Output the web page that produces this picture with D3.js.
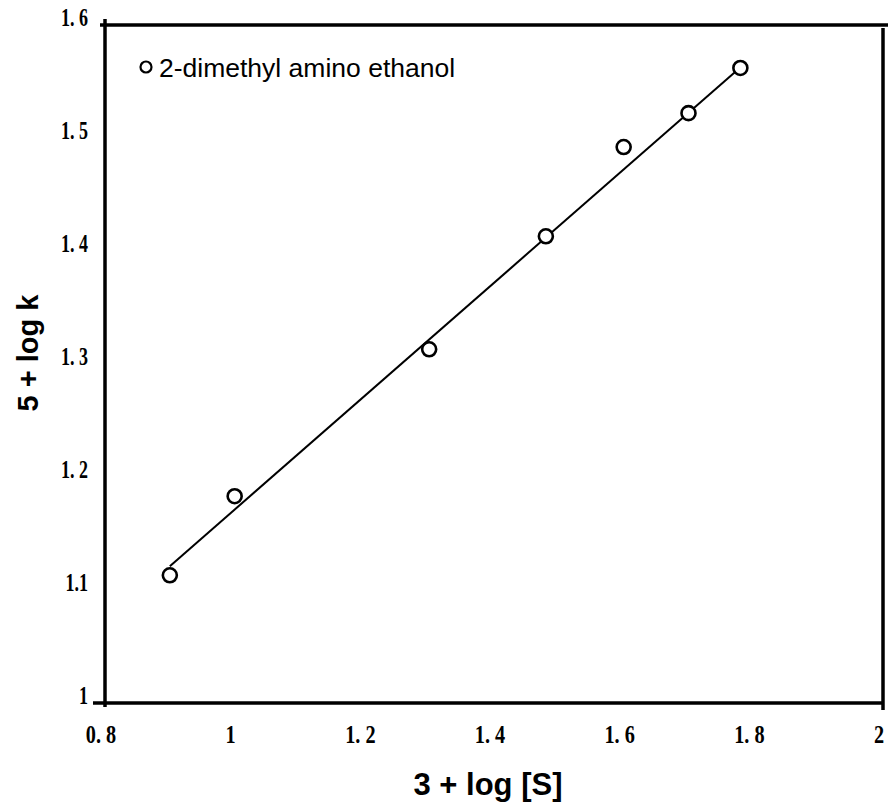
<!DOCTYPE html>
<html>
<head>
<meta charset="utf-8">
<script src="https://cdn.jsdelivr.net/npm/d3@7"></script>
<style>
  html, body { margin: 0; padding: 0; background: #fff; }
  svg { display: block; }
</style>
</head>
<body>
<script>
// ---- data ----
const xValues = [0.90, 1.00, 1.30, 1.48, 1.60, 1.70, 1.78];
const yValues = [1.113, 1.183, 1.313, 1.413, 1.492, 1.522, 1.562];
const fitX = [0.90, 1.775];
const fitY = [1.121, 1.560];
const xTicks = [0.8, 1.0, 1.2, 1.4, 1.6, 1.8, 2.0];
const xTickLabels = ["0. 8", "1", "1. 2", "1. 4", "1. 6", "1. 8", "2"];
const yTicks = [1.0, 1.1, 1.2, 1.3, 1.4, 1.5, 1.6];
const yTickLabels = ["1", "1.1", "1. 2", "1. 3", "1. 4", "1. 5", "1. 6"];
const seriesName = "2-dimethyl amino ethanol";
const xTitle = "3 + log [S]";
const yTitle = "5 + log k";

const W = 888, H = 807;
const mLeft = 105, mRight = 883, mTop = 25, mBottom = 703;

const svg = d3.select("body").append("svg").attr("width", W).attr("height", H);

const x = d3.scaleLinear().domain([0.8, 2.0]).range([mLeft, mRight]);
const y = d3.scaleLinear().domain([1.0, 1.6]).range([mBottom, mTop]);

// frame
const frame = svg.append("g").attr("stroke", "#000").attr("stroke-width", 3.5).attr("fill", "none");
frame.append("line").attr("x1", x(0.8)).attr("x2", x(0.8)).attr("y1", y(1.6) - 6).attr("y2", y(1.0) + 4);
frame.append("line").attr("x1", x(0.8) - 12).attr("x2", x(2.0)).attr("y1", y(1.0)).attr("y2", y(1.0));
frame.append("line").attr("x1", x(0.8) - 5).attr("x2", W).attr("y1", y(1.6)).attr("y2", y(1.6));
frame.append("line").attr("x1", x(2.0)).attr("x2", x(2.0)).attr("y1", y(1.6) + 3).attr("y2", y(1.0) + 7);

// tick labels
const tickFont = "'Liberation Serif', 'DejaVu Serif', serif";
svg.append("g").selectAll("text").data(xTicks).join("text")
  .attr("transform", d => `translate(${x(d) - 4},743) scale(0.78,1)`)
  .attr("text-anchor", "middle")
  .attr("font-family", tickFont).attr("font-weight", "bold").attr("font-size", 26)
  .text((d, i) => xTickLabels[i]);

svg.append("g").selectAll("text").data(yTicks).join("text")
  .attr("transform", d => `translate(88,${y(d) + 1}) scale(0.72,1)`)
  .attr("text-anchor", "end")
  .attr("font-family", tickFont).attr("font-weight", "bold").attr("font-size", 25)
  .text((d, i) => yTickLabels[i]);

// axis titles
svg.append("text")
  .attr("x", 488).attr("y", 795)
  .attr("text-anchor", "middle")
  .attr("font-family", "'Liberation Sans', Arial, sans-serif")
  .attr("font-weight", "bold").attr("font-size", 31)
  .text(xTitle);

svg.append("text")
  .attr("transform", "translate(38,353) rotate(-90)")
  .attr("text-anchor", "middle")
  .attr("font-family", "'Liberation Sans', Arial, sans-serif")
  .attr("font-weight", "bold").attr("font-size", 29)
  .text(yTitle);

// fit line
const lineGen = d3.line().x(d => x(d[0])).y(d => y(d[1]));
svg.append("path")
  .datum(fitX.map((v, i) => [v, fitY[i]]))
  .attr("d", lineGen)
  .attr("fill", "none").attr("stroke", "#000").attr("stroke-width", 2);

// points
svg.append("g").selectAll("circle").data(xValues).join("circle")
  .attr("cx", d => x(d))
  .attr("cy", (d, i) => y(yValues[i]))
  .attr("r", 7)
  .attr("fill", "#fff").attr("stroke", "#000").attr("stroke-width", 2.6);

// legend
svg.append("circle").attr("cx", 146).attr("cy", 67).attr("r", 5.5)
  .attr("fill", "#fff").attr("stroke", "#000").attr("stroke-width", 2.2);
svg.append("text")
  .attr("x", 159).attr("y", 77)
  .attr("font-family", "'Liberation Sans', Arial, sans-serif")
  .attr("font-size", 26.5)
  .text(seriesName);
</script>
</body>
</html>
